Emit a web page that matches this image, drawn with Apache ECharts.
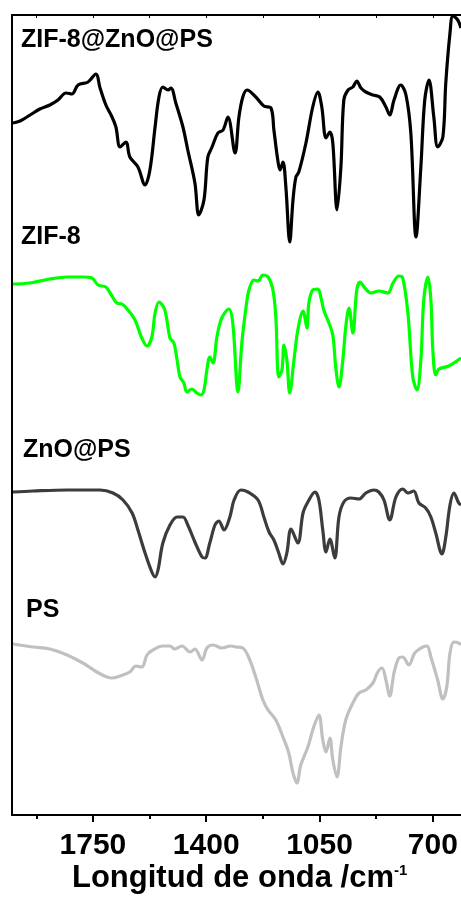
<!DOCTYPE html>
<html>
<head>
<meta charset="utf-8">
<script src="https://cdn.jsdelivr.net/npm/echarts@6/dist/echarts.min.js"></script>
<style>
	html, body { margin: 0; padding: 0; background: #fff; }
	#chart { width: 461px; height: 899px; }
</style>
</head>
<body>
<div id="chart"></div>
<script>
// wavenumbers (cm-1) and offset intensities (a.u.)
var zifZnoPsWn = [1997, 1975, 1944, 1914, 1883, 1858, 1833, 1815, 1796, 1765, 1741, 1728, 1710, 1691, 1679, 1666, 1648, 1636, 1611, 1589, 1574, 1558, 1546, 1534, 1518, 1509, 1494, 1472, 1457, 1435, 1423, 1407, 1395, 1382, 1364, 1348, 1333, 1311, 1299, 1287, 1274, 1247, 1222, 1200, 1191, 1179, 1172, 1163, 1154, 1142, 1132, 1123, 1114, 1092, 1071, 1055, 1043, 1030, 1018, 1009, 996, 984, 975, 962, 947, 935, 922, 907, 885, 864, 845, 833, 820, 799, 783, 768, 752, 737, 725, 712, 697, 685, 669, 660, 647, 638, 623, 613];
var zifZnoPsVal = [692, 694, 700, 706, 710, 715, 722, 721, 730, 733, 741, 727, 710, 698, 688, 668, 673, 658, 648, 630, 645, 688, 718, 728, 725, 727, 712, 688, 665, 632, 600, 615, 658, 668, 682, 685, 698, 662, 698, 718, 725, 718, 709, 707, 685, 655, 645, 653, 628, 573, 615, 638, 643, 672, 708, 723, 708, 677, 683, 672, 605, 648, 715, 725, 728, 734, 727, 723, 720, 718, 708, 700, 715, 730, 720, 682, 578, 648, 715, 735, 698, 668, 678, 732, 782, 799, 795, 787];

var zifWn = [1997, 1944, 1883, 1830, 1781, 1753, 1734, 1710, 1697, 1676, 1660, 1642, 1620, 1599, 1583, 1568, 1558, 1546, 1528, 1512, 1500, 1490, 1481, 1469, 1460, 1444, 1429, 1416, 1407, 1398, 1389, 1379, 1367, 1352, 1330, 1318, 1302, 1290, 1277, 1268, 1253, 1240, 1225, 1209, 1194, 1185, 1176, 1166, 1160, 1151, 1142, 1129, 1117, 1101, 1089, 1083, 1071, 1055, 1046, 1037, 1021, 1009, 1000, 990, 978, 969, 959, 947, 935, 925, 910, 891, 867, 839, 823, 805, 793, 777, 762, 749, 737, 728, 715, 706, 700, 691, 681, 651, 613];
var zifVal = [531, 532, 536, 538, 538, 537, 530, 528, 522, 512, 511, 505, 495, 477, 469, 478, 502, 513, 505, 477, 472, 455, 438, 432, 423, 426, 422, 420, 425, 445, 458, 452, 478, 497, 506, 492, 423, 472, 508, 525, 535, 534, 540, 538, 525, 498, 438, 445, 470, 455, 422, 455, 485, 504, 487, 512, 525, 526, 518, 505, 492, 480, 448, 428, 455, 488, 507, 482, 525, 533, 527, 522, 524, 522, 532, 539, 537, 502, 438, 425, 455, 515, 538, 515, 465, 440, 446, 449, 457];

var znoPsWn = [1997, 1935, 1830, 1728, 1688, 1657, 1629, 1611, 1589, 1568, 1558, 1549, 1534, 1512, 1490, 1472, 1457, 1435, 1413, 1404, 1389, 1373, 1361, 1345, 1327, 1314, 1293, 1271, 1240, 1222, 1206, 1191, 1176, 1163, 1151, 1138, 1117, 1101, 1086, 1064, 1052, 1040, 1030, 1018, 1003, 990, 975, 953, 928, 907, 882, 867, 851, 833, 814, 793, 777, 759, 743, 722, 706, 691, 672, 660, 647, 635, 620, 613];
var znoPsVal = [323, 324, 325, 325, 322, 315, 302, 285, 262, 243, 238, 245, 272, 290, 298, 298, 290, 273, 258, 257, 272, 290, 294, 285, 298, 315, 325, 323, 315, 298, 283, 275, 262, 251, 262, 286, 272, 302, 313, 323, 315, 285, 263, 276, 257, 298, 313, 317, 316, 322, 325, 323, 315, 295, 318, 326, 322, 324, 312, 307, 298, 282, 261, 278, 310, 322, 312, 310];

var psWn = [1997, 1935, 1883, 1830, 1781, 1738, 1707, 1691, 1666, 1636, 1617, 1599, 1583, 1565, 1534, 1512, 1497, 1475, 1450, 1435, 1413, 1398, 1379, 1352, 1324, 1308, 1287, 1268, 1247, 1225, 1209, 1185, 1163, 1145, 1132, 1120, 1108, 1086, 1068, 1052, 1040, 1030, 1018, 1009, 996, 984, 969, 947, 928, 907, 885, 870, 857, 845, 833, 820, 805, 793, 774, 756, 731, 718, 706, 685, 669, 657, 647, 635, 620, 613];
var psVal = [171, 168, 166, 160, 152, 143, 138, 137, 139, 143, 149, 148, 160, 165, 169, 169, 166, 169, 163, 166, 155, 167, 170, 167, 169, 168, 167, 157, 138, 115, 105, 95, 78, 62, 42, 32, 50, 68, 88, 100, 75, 63, 77, 55, 38, 68, 95, 112, 122, 125, 132, 143, 147, 135, 119, 142, 157, 158, 150, 162, 168, 169, 158, 135, 116, 128, 162, 173, 172, 170];

var seriesNames = ['ZIF-8@ZnO@PS', 'ZIF-8', 'ZnO@PS', 'PS'];
var seriesColors = ['#000000', '#00ff00', '#3c3c3c', '#c0c0c0'];
var majorTicks = [1750, 1400, 1050, 700];
var minorTicks = [1925, 1575, 1225, 875];

function pairs(wn, val) {
	var out = [];
	for (var i = 0; i < wn.length; i++) {
		out.push([wn[i], val[i]]);
	}
	return out;
}

var myChart = echarts.init(document.getElementById('chart'), null, { renderer: 'canvas' });

var allData = [
	pairs(zifZnoPsWn, zifZnoPsVal),
	pairs(zifWn, zifVal),
	pairs(znoPsWn, znoPsVal),
	pairs(psWn, psVal)
];

var series = [];
for (var i = 0; i < allData.length; i++) {
	series.push({
		name: seriesNames[i],
		type: 'line',
		data: allData[i],
		smooth: 0.35,
		symbol: 'none',
		lineStyle: { color: seriesColors[i], width: 3.2 },
		z: 2
	});
}

var font = '"Liberation Sans", Arial, sans-serif';
var labelY = [41, 238, 451, 611];
var labelX = [21, 21, 23, 26];
var graphics = [];
for (var j = 0; j < seriesNames.length; j++) {
	graphics.push({
		type: 'text',
		left: labelX[j],
		top: labelY[j] - 13,
		style: {
			text: seriesNames[j],
			fill: '#000',
			font: 'bold 25px ' + font
		}
	});
}
// axis title with superscript
graphics.push({
	type: 'text',
	left: 72,
	top: 863,
	style: {
		text: '{a|Longitud de onda /cm}{s|-1}',
		rich: {
			a: { fontSize: 31, fontWeight: 'bold', fontFamily: font, fill: '#000' },
			s: { fontSize: 15, fontWeight: 'bold', fontFamily: font, fill: '#000', verticalAlign: 'top' }
		}
	}
});

var option = {
	animation: false,
	backgroundColor: '#fff',
	grid: { left: 12, right: 0, top: 15, bottom: 84 },
	xAxis: [ {
		type: 'value',
		inverse: true,
		min: 613,
		max: 2000,
		position: 'bottom',
		axisLine: { lineStyle: { color: '#000', width: 2 } },
		axisTick: { customValues: majorTicks, length: 7, lineStyle: { color: '#000', width: 2 } },
		axisLabel: {
			customValues: majorTicks,
			formatter: function (v) { return String(v); },
			margin: 16,
			color: '#000',
			fontSize: 30,
			fontWeight: 'bold',
			fontFamily: font
		},
		splitLine: { show: false }
	}, {
		type: 'value',
		inverse: true,
		min: 613,
		max: 2000,
		position: 'bottom',
		axisLine: { show: false },
		axisTick: { customValues: minorTicks, length: 4, lineStyle: { color: '#000', width: 2 } },
		axisLabel: { show: false },
		splitLine: { show: false }
	}, {
		type: 'value',
		inverse: true,
		min: 613,
		max: 2000,
		position: 'top',
		axisLine: { lineStyle: { color: '#000', width: 2 } },
		axisTick: { inside: true, customValues: majorTicks.concat(minorTicks), length: 3, lineStyle: { color: '#000', width: 1 } },
		axisLabel: { show: false },
		splitLine: { show: false }
	} ],
	yAxis: {
		type: 'value',
		min: 0,
		max: 800,
		axisLine: { show: true, lineStyle: { color: '#000', width: 2 } },
		axisTick: { show: false },
		axisLabel: { show: false },
		splitLine: { show: false }
	},
	graphic: graphics,
	series: series
};
myChart.setOption(option, true);
</script>
</body>
</html>
